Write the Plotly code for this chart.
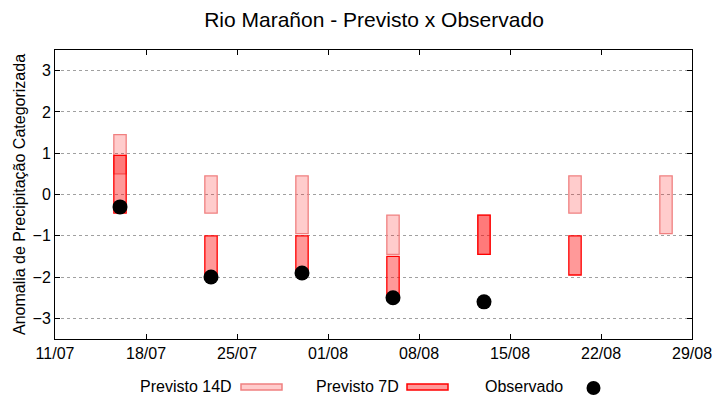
import plotly.graph_objects as go

# ---- data ----
dates = ["2024-07-16", "2024-07-23", "2024-07-30", "2024-08-06",
         "2024-08-13", "2024-08-20", "2024-08-27"]
p14_low = [0.5, -0.45, -0.95, -1.45, -1.45, -0.45, -0.95]
p14_high = [1.45, 0.45, 0.45, -0.5, -0.5, 0.45, 0.45]
p7_dates = ["2024-07-16", "2024-07-23", "2024-07-30", "2024-08-06",
            "2024-08-13", "2024-08-20"]
p7_low = [-0.45, -2.0, -1.95, -2.5, -1.45, -1.95]
p7_high = [0.95, -1.0, -1.0, -1.5, -0.5, -1.0]
obs_dates = ["2024-07-16", "2024-07-23", "2024-07-30", "2024-08-06", "2024-08-13"]
obs_vals = [-0.3, -2.0, -1.9, -2.5, -2.6]
tick_dates = ["2024-07-11", "2024-07-18", "2024-07-25", "2024-08-01",
              "2024-08-08", "2024-08-15", "2024-08-22", "2024-08-29"]
y_ticks = [-3, -2, -1, 0, 1, 2, 3]

DAY_MS = 86400000
bar_w = 0.95 * DAY_MS
FONT = "Liberation Sans, Arial, sans-serif"

fig = go.Figure()
fig.add_trace(go.Bar(
    x=dates, y=[h - l for h, l in zip(p14_high, p14_low)], base=p14_low,
    width=[bar_w] * len(dates),
    marker=dict(color="rgba(255,0,0,0.2)", line=dict(color="#f08080", width=1.3)),
    name="Previsto 14D", showlegend=False,
))
fig.add_trace(go.Bar(
    x=p7_dates, y=[h - l for h, l in zip(p7_high, p7_low)], base=p7_low,
    width=[bar_w] * len(p7_dates),
    marker=dict(color="rgba(255,0,0,0.4)", line=dict(color="#ff0000", width=1.3)),
    name="Previsto 7D", showlegend=False,
))
fig.add_trace(go.Scatter(
    x=obs_dates, y=obs_vals, mode="markers",
    marker=dict(color="black", size=15),
    name="Observado", showlegend=False,
))

# page body has an 8px margin: figure occupies window pixels 8..720 x 8..400
OFF = 8
W, H = 720 - OFF, 400 - OFF
L, R, T, B = 55 - OFF, 28, 50 - OFF, 61
pw, ph = W - L - R, H - T - B


def px(x):  # window pixel -> paper x
    return (x - OFF - L) / pw


def py(y):  # window pixel -> paper y
    return (H - B - (y - OFF)) / ph


# custom gnuplot-style legend (text then key)
legend_items = [
    ("Previsto 14D", 234, 241, 282, "rgba(255,0,0,0.2)", "#f08080"),
    ("Previsto 7D", 401, 407, 448, "rgba(255,0,0,0.4)", "#ff0000"),
]
for txt, tx, x0, x1, fc, lc in legend_items:
    fig.add_annotation(x=px(tx), y=py(386), xref="paper", yref="paper",
                       text=txt, showarrow=False, xanchor="right", yanchor="middle",
                       font=dict(size=16, color="black", family=FONT))
    fig.add_shape(type="rect", xref="paper", yref="paper",
                  x0=px(x0), x1=px(x1), y0=py(384), y1=py(390),
                  fillcolor=fc, line=dict(color=lc, width=1.5))
fig.add_annotation(x=px(565), y=py(386), xref="paper", yref="paper",
                   text="Observado", showarrow=False, xanchor="right", yanchor="middle",
                   font=dict(size=16, color="black", family=FONT))
fig.add_shape(type="circle", xref="paper", yref="paper",
              x0=px(586.5), x1=px(600.5), y0=py(381), y1=py(395),
              fillcolor="black", line=dict(color="black", width=0))

fig.update_layout(
    width=W, height=H,
    margin=dict(l=L, r=R, t=T, b=B, autoexpand=False),
    paper_bgcolor="white", plot_bgcolor="white",
    barmode="overlay",
    font=dict(family=FONT, size=16, color="black"),
    title=dict(text="Rio Marañon - Previsto x Observado",
               x=(374 - OFF) / W, xanchor="center",
               y=1 - (20 - OFF) / H, yanchor="middle", font=dict(size=21, family=FONT)),
    showlegend=False,
)
fig.update_xaxes(
    type="date", automargin=False,
    range=[tick_dates[0], tick_dates[-1]],
    tickvals=tick_dates, tickformat="%d/%m",
    ticks="inside", ticklen=5, tickcolor="black",
    showline=True, linecolor="black", linewidth=1, mirror="allticks",
    showgrid=False, zeroline=False,
    tickfont=dict(size=16, family=FONT),
)
fig.update_yaxes(
    automargin=False,
    range=[-3.5, 3.5],
    tickvals=y_ticks,
    ticks="inside", ticklen=5, tickcolor="black",
    showline=True, linecolor="black", linewidth=1, mirror="allticks",
    showgrid=True, gridcolor="#a0a0a0", griddash="dot", gridwidth=1,
    zeroline=False,
    tickfont=dict(size=16, family=FONT),
    title=dict(text="Anomalia de Precipitação Categorizada", font=dict(size=16, family=FONT),
               standoff=2),
)

fig.write_html("out.html")
